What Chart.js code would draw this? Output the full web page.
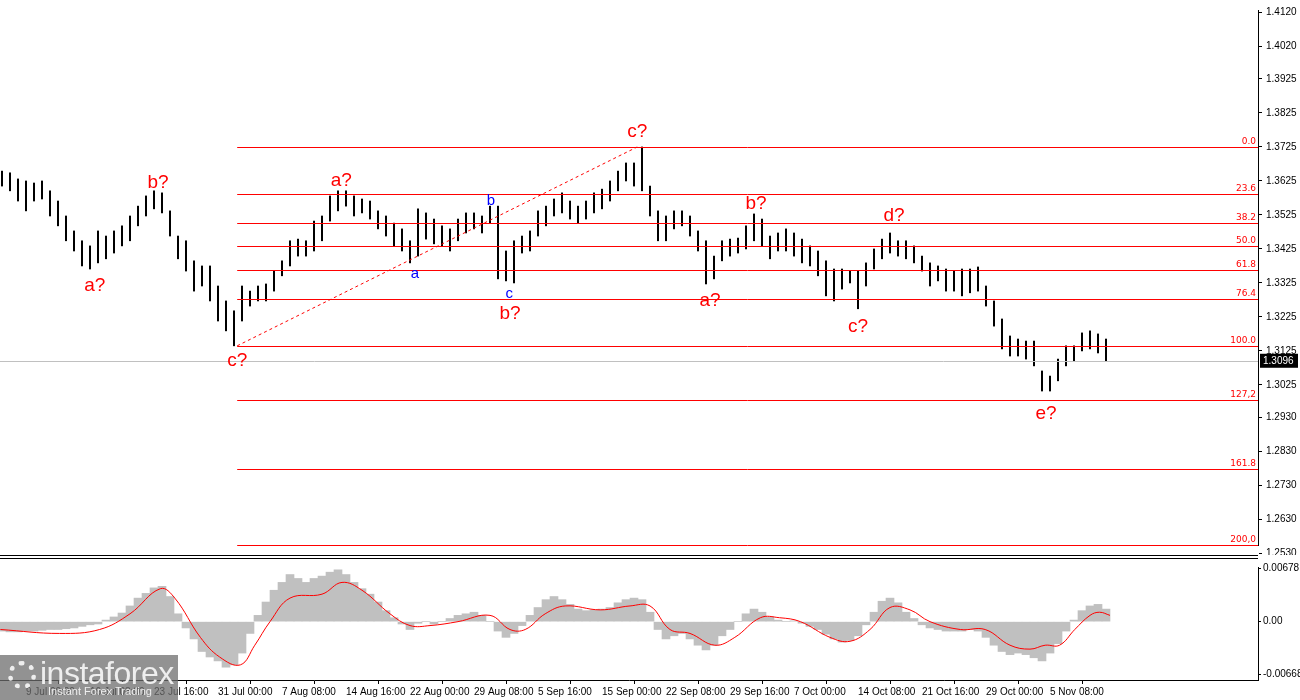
<!DOCTYPE html>
<html><head><meta charset="utf-8">
<script src="https://cdn.jsdelivr.net/npm/chart.js@4/dist/chart.umd.min.js"></script>
<style>
body{margin:0;background:#fff;width:1300px;height:700px;overflow:hidden;position:relative;font-family:"DejaVu Sans",sans-serif}
#c1{position:absolute;left:0;top:0}
#c2{position:absolute;left:0;top:559px}
#sep{position:absolute;left:0;top:555px;width:1258px;height:2px;border-top:1px solid #000;border-bottom:1px solid #000}
#logo{position:absolute;left:0;top:655px;width:178px;height:45px;background:rgba(110,110,110,0.75);color:#eee}
#logo .a{position:absolute;left:40px;top:0px;font:32px "Liberation Sans",sans-serif;letter-spacing:-0.5px}
#logo .b{position:absolute;left:48px;top:30px;font:11px "Liberation Sans",sans-serif}
#logo .g{position:absolute;left:8px;top:6px;width:28px;height:28px;border-radius:50%;border:5px dotted #eee;box-sizing:border-box}
</style></head><body>
<canvas id="c1" width="1300" height="555"></canvas>
<div id="sep"></div>
<canvas id="c2" width="1300" height="141"></canvas>
<div id="logo"><div class="g"></div><div class="a">instaforex</div><div class="b">Instant Forex Trading</div></div>
<script>
// ---- data ----
const barStart = -3;
const highs = [1.3654,1.3649,1.3631,1.3625,1.3619,1.3625,1.3596,1.3566,1.3522,1.3478,1.3449,1.3434,1.3478,1.3463,1.3478,1.3493,1.3522,1.3551,1.3581,1.3596,1.3590,1.3537,1.3463,1.3449,1.3390,1.3375,1.3375,1.3316,1.3272,1.3243,1.3316,1.3301,1.3316,1.3322,1.3360,1.3390,1.3449,1.3454,1.3449,1.3507,1.3522,1.3581,1.3596,1.3596,1.3581,1.3572,1.3566,1.3537,1.3522,1.3501,1.3484,1.3449,1.3543,1.3531,1.3513,1.3493,1.3484,1.3513,1.3531,1.3531,1.3522,1.3551,1.3551,1.3419,1.3449,1.3463,1.3478,1.3537,1.3551,1.3572,1.3590,1.3566,1.3551,1.3566,1.3590,1.3601,1.3625,1.3654,1.3678,1.3678,1.3725,1.3610,1.3537,1.3522,1.3537,1.3537,1.3522,1.3478,1.3449,1.3404,1.3449,1.3454,1.3457,1.3493,1.3528,1.3513,1.3463,1.3472,1.3484,1.3472,1.3454,1.3434,1.3419,1.3390,1.3366,1.3366,1.3360,1.3360,1.3384,1.3425,1.3454,1.3472,1.3449,1.3449,1.3434,1.3404,1.3384,1.3375,1.3366,1.3360,1.3366,1.3366,1.3372,1.3316,1.3272,1.3219,1.3169,1.3160,1.3154,1.3154,1.3066,1.3051,1.3101,1.3140,1.3140,1.3178,1.3184,1.3175,1.3160];
const lows = [1.3610,1.3596,1.3566,1.3537,1.3566,1.3572,1.3522,1.3493,1.3449,1.3419,1.3375,1.3366,1.3384,1.3396,1.3413,1.3434,1.3449,1.3493,1.3522,1.3543,1.3531,1.3463,1.3396,1.3360,1.3301,1.3316,1.3272,1.3213,1.3184,1.3140,1.3213,1.3257,1.3272,1.3272,1.3301,1.3346,1.3375,1.3404,1.3404,1.3419,1.3449,1.3507,1.3537,1.3551,1.3522,1.3531,1.3513,1.3484,1.3463,1.3434,1.3419,1.3384,1.3404,1.3454,1.3440,1.3434,1.3419,1.3449,1.3472,1.3484,1.3472,1.3501,1.3337,1.3331,1.3325,1.3413,1.3419,1.3463,1.3493,1.3522,1.3531,1.3513,1.3501,1.3513,1.3531,1.3543,1.3566,1.3596,1.3625,1.3610,1.3596,1.3522,1.3449,1.3449,1.3484,1.3493,1.3463,1.3419,1.3322,1.3337,1.3390,1.3404,1.3413,1.3425,1.3449,1.3434,1.3396,1.3419,1.3419,1.3404,1.3384,1.3375,1.3346,1.3287,1.3272,1.3307,1.3325,1.3249,1.3316,1.3366,1.3396,1.3413,1.3404,1.3396,1.3384,1.3360,1.3316,1.3331,1.3301,1.3301,1.3287,1.3296,1.3301,1.3257,1.3198,1.3131,1.3110,1.3110,1.3101,1.3081,1.3007,1.3007,1.3037,1.3081,1.3096,1.3125,1.3131,1.3119,1.3096];
const histogram = [-0.0012,-0.0013,-0.0013,-0.0012,-0.0012,-0.0011,-0.0010,-0.0010,-0.0009,-0.0008,-0.0006,-0.0004,-0.0003,0.0002,0.0006,0.0011,0.0020,0.0030,0.0036,0.0043,0.0045,0.0032,0.0010,-0.0008,-0.0022,-0.0038,-0.0045,-0.0050,-0.0058,-0.0055,-0.0040,-0.0015,0.0008,0.0025,0.0040,0.0050,0.0060,0.0055,0.0050,0.0055,0.0058,0.0063,0.0066,0.0060,0.0050,0.0042,0.0035,0.0025,0.0014,0.0005,-0.0003,-0.0010,-0.0002,0.0000,-0.0003,0.0000,0.0004,0.0008,0.0010,0.0012,0.0008,0.0000,-0.0012,-0.0020,-0.0015,-0.0005,0.0008,0.0018,0.0028,0.0032,0.0028,0.0022,0.0016,0.0014,0.0015,0.0016,0.0018,0.0024,0.0028,0.0030,0.0028,0.0012,-0.0010,-0.0022,-0.0018,-0.0015,-0.0022,-0.0030,-0.0036,-0.0030,-0.0018,-0.0010,0.0000,0.0010,0.0016,0.0012,0.0006,0.0002,0.0000,0.0001,-0.0002,-0.0006,-0.0010,-0.0016,-0.0022,-0.0026,-0.0024,-0.0018,-0.0004,0.0012,0.0026,0.0030,0.0024,0.0012,0.0004,-0.0004,-0.0008,-0.0010,-0.0012,-0.0012,-0.0012,-0.0010,-0.0012,-0.0020,-0.0030,-0.0038,-0.0042,-0.0040,-0.0042,-0.0046,-0.0050,-0.0040,-0.0028,-0.0012,0.0002,0.0014,0.0020,0.0022,0.0016];
const signalIdx = [-3.2,4.2,9.2,13,16.8,18.6,21.8,24.2,26.8,28.6,30.5,33,37,39.5,42,45.5,48,50.5,54,58,60.5,62.4,64.9,67.4,71.8,75.5,78,80.5,83,86.1,88.6,91.8,94.2,96.8,100.5,103,105.5,108,110.5,113,116.8,119.9,123,125.5,127.4,129.2,131.1,133,134.2,135.5];
const signalVal = [-0.0010,-0.0015,-0.0010,0.0010,0.0042,0.0030,-0.0020,-0.0045,-0.0055,-0.0030,0.0000,0.0030,0.0035,0.0050,0.0040,0.0010,-0.0005,-0.0005,0.0000,0.0008,-0.0010,-0.0010,0.0010,0.0020,0.0015,0.0020,0.0020,-0.0010,-0.0015,-0.0030,-0.0020,0.0005,0.0005,0.0000,-0.0020,-0.0025,-0.0010,0.0018,0.0015,0.0000,-0.0010,-0.0010,-0.0030,-0.0035,-0.0030,-0.0030,-0.0010,0.0008,0.0012,0.0008];
const priceTicks = [1.4120,1.4020,1.3925,1.3825,1.3725,1.3625,1.3525,1.3425,1.3325,1.3225,1.3125,1.3025,1.2930,1.2830,1.2730,1.2630,1.2530];
const oscTicks = [0.00678,0,-0.00668];
const dateTickIdx = [0,8,16,24,32,40,48,56,64,72,80,88,96,104,112,120,128];
const dateTickLabels = ["9 Jul 00:00","16 Jul 08:00","23 Jul 16:00","31 Jul 00:00","7 Aug 08:00","14 Aug 16:00","22 Aug 00:00","29 Aug 08:00","5 Sep 16:00","15 Sep 00:00","22 Sep 08:00","29 Sep 16:00","7 Oct 00:00","14 Oct 08:00","21 Oct 16:00","29 Oct 00:00","5 Nov 08:00"];
const fibLevels = ["0.0","23.6","38.2","50.0","61.8","76.4","100.0","127,2","161.8","200,0"];
const fibPrices = [1.3725,1.3587,1.3501,1.3433,1.3364,1.3278,1.3140,1.2981,1.2778,1.2555];
const fibStartIdx = 26.4;
const dashFrom = [26.4,1.3140], dashTo = [76.4,1.3725];
const lastPrice = 1.3096;
const waveText  = ["a?","b?","c?","a?","a","b","c","b?","c?","a?","b?","c?","d?","e?"];
const waveIdx   = [8.6,16.5,26.4,39.4,48.6,58.1,60.4,60.5,76.4,85.5,91.25,104,108.5,127.5];
const wavePrice = [1.3316,1.3619,1.3096,1.3625,1.3351,1.3566,1.3293,1.3234,1.3769,1.3272,1.3557,1.3196,1.3522,1.2940];
const waveColor = ["r","r","r","r","b","b","b","r","r","r","r","r","r","r"];

const X_MIN = -3.25, X_MAX = 154;
const Y_MIN = 1.2554, Y_MAX = 1.4128;

const barData = highs.map((h,i)=>({x: barStart+i, y:[lows[i], h]}));
const histData = histogram.map((v,i)=>({x: barStart+i, y:v}));
const sigData = signalIdx.map((x,i)=>({x, y:signalVal[i]}));

const AXF = {family:'"Liberation Sans"', size:10};

const overlay = {
  id:'overlay',
  afterDatasetsDraw(chart){
    const {ctx, scales:{x,y}, chartArea:a} = chart;
    ctx.save();
    const yl = y.getPixelForValue(lastPrice);
    ctx.strokeStyle='#c0c0c0'; ctx.lineWidth=1;
    ctx.beginPath(); ctx.moveTo(a.left,Math.round(yl)+0.5); ctx.lineTo(a.right,Math.round(yl)+0.5); ctx.stroke();
    const x0 = x.getPixelForValue(fibStartIdx);
    ctx.strokeStyle='#ff0000'; ctx.fillStyle='#ff0000';
    ctx.font='9px "DejaVu Sans"'; ctx.textAlign='right'; ctx.textBaseline='bottom';
    fibPrices.forEach((p,i)=>{
      const py = Math.round(y.getPixelForValue(p))+0.5;
      ctx.beginPath(); ctx.moveTo(x0,py); ctx.lineTo(a.right,py); ctx.stroke();
      ctx.fillText(fibLevels[i], a.right-2, py-1);
    });
    ctx.setLineDash([3,3]);
    ctx.beginPath();
    ctx.moveTo(x.getPixelForValue(dashFrom[0]), y.getPixelForValue(dashFrom[1]));
    ctx.lineTo(x.getPixelForValue(dashTo[0]), y.getPixelForValue(dashTo[1]));
    ctx.stroke(); ctx.setLineDash([]);
    ctx.textAlign='center'; ctx.textBaseline='middle';
    waveText.forEach((t,i)=>{
      const blue = waveColor[i]==='b';
      ctx.fillStyle = blue ? '#0000ff' : '#ff0000';
      ctx.font = blue ? '15px "Liberation Sans"' : '19px "Liberation Sans"';
      ctx.fillText(t, x.getPixelForValue(waveIdx[i]), y.getPixelForValue(wavePrice[i]));
    });
    ctx.fillStyle='#000'; ctx.fillRect(a.right+2, yl-7, 38, 14);
    ctx.fillStyle='#fff'; ctx.font='10px "Liberation Sans"'; ctx.textAlign='left';
    ctx.fillText(lastPrice.toFixed(4), a.right+5, yl);
    ctx.restore();
  }
};

Chart.defaults.font.family='"Liberation Sans"';
Chart.defaults.font.size=10;
Chart.defaults.color='#000';

new Chart(document.getElementById('c1'),{
  type:'bar',
  data:{datasets:[{data:barData, backgroundColor:'#000', barThickness:1.4, borderSkipped:false}]},
  options:{
    responsive:false, animation:false, devicePixelRatio:1,
    layout:{padding:0},
    plugins:{legend:{display:false}, tooltip:{enabled:false}},
    scales:{
      x:{type:'linear', min:X_MIN, max:X_MAX, display:false, offset:false},
      y:{position:'right', min:Y_MIN, max:Y_MAX,
        afterBuildTicks(s){ s.ticks = priceTicks.map(v=>({value:v})); },
        afterFit(s){ s.width = 42; },
        ticks:{callback:v=>v.toFixed(4), padding:4, font:AXF},
        grid:{drawOnChartArea:false, tickLength:4, color:'#000'},
        border:{color:'#000'}
      }
    }
  },
  plugins:[overlay]
});

new Chart(document.getElementById('c2'),{
  type:'bar',
  data:{datasets:[
    {type:'line', data:sigData, borderColor:'#ff0000', borderWidth:1, pointRadius:0, tension:0.4, order:0},
    {data:histData, backgroundColor:'#c0c0c0', barThickness:8, order:1}
  ]},
  options:{
    responsive:false, animation:false, devicePixelRatio:1,
    layout:{padding:0},
    plugins:{legend:{display:false}, tooltip:{enabled:false}},
    scales:{
      x:{type:'linear', min:X_MIN, max:X_MAX, offset:false,
        afterBuildTicks(s){ s.ticks = dateTickIdx.map(v=>({value:v})); },
        afterFit(s){ s.height = 20; },
        ticks:{callback:(v)=>dateTickLabels[dateTickIdx.indexOf(v)], align:'start', maxRotation:0, autoSkip:false, padding:2, font:AXF},
        grid:{drawOnChartArea:false, tickLength:4, color:'#000'},
        border:{color:'#000'}
      },
      y:{position:'right', min:-0.00743, max:0.00696,
        afterBuildTicks(s){ s.ticks = oscTicks.map(v=>({value:v})); },
        afterFit(s){ s.width = 42; },
        ticks:{callback:v=> v===0 ? '0.00' : v.toFixed(5), padding:2, font:AXF},
        grid:{drawOnChartArea:false, tickLength:3, color:'#000'},
        border:{color:'#000'}
      }
    }
  }
});
</script>
</body></html>
